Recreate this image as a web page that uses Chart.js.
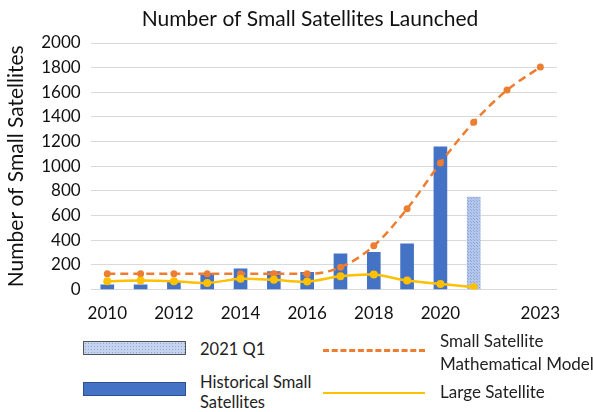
<!DOCTYPE html>
<html>
<head>
<meta charset="utf-8">
<script src="https://cdn.jsdelivr.net/npm/chart.js@4/dist/chart.umd.min.js"></script>
<style>
  body { margin: 0; background: #fff; font-family: Lato, "Open Sans", sans-serif; }
  #wrap { position: relative; width: 593px; height: 412px; }
  #box { position: absolute; left: 0; top: 0; width: 593px; height: 330px; }
  .leg { position: absolute; font-size: 16.5px; color: #222; line-height: 20px; white-space: nowrap; }
  .sw { position: absolute; width: 103px; height: 14px; box-sizing: border-box; }
  .ln { position: absolute; width: 102px; height: 0; }
</style>
</head>
<body>
<div id="wrap">
  <div id="box"><canvas id="sats"></canvas></div>
  <div id="legend"></div>
</div>
<script>
// values by year
const years = ['2010','2011','2012','2013','2014','2015','2016','2017','2018','2019','2020','2021','2022','2023'];
const shownYears = ['2010','2012','2014','2016','2018','2020','2023'];
const historical = [39, 39, 60, 130, 168, 146, 141, 290, 303, 371, 1157, null, null, null];
const q1_2021 = [null, null, null, null, null, null, null, null, null, null, null, 750, null, null];
const modelValues = [128, 128, 128, 128, 128, 128, 128, 181, 355, 656, 1027, 1358, 1618, 1805];
const largeSats = [68, 73, 68, 54, 87, 79, 65, 108, 122, 73, 46, 19, null, null];

const BLUE = '#4472C4';
const ORANGE = '#ED7D31';
const YELLOW = '#FFC000';
const TEXT = '#111';

// dotted light blue fill for the partial year bar
function dotPattern() {
    const c = document.createElement('canvas');
    c.width = 3; c.height = 3;
    const g = c.getContext('2d');
    g.fillStyle = '#B4C6EA';
    g.fillRect(0, 0, 3, 3);
    g.fillStyle = '#8FA8DA';
    g.fillRect(0, 0, 1, 1);
    g.fillRect(2, 2, 1, 1);
    return g.createPattern(c, 'repeat');
}
const pattern = dotPattern();

// title sits a bit right of the canvas centre, so draw it by hand
const headTitle = {
    id: 'headTitle',
    afterDraw(chart) {
        const c = chart.ctx;
        c.save();
        c.font = '21px Lato';
        c.fillStyle = TEXT;
        c.textAlign = 'center';
        c.textBaseline = 'middle';
        c.fillText('Number of Small Satellites Launched', 310, 19);
        c.restore();
    }
};

const ctx = document.getElementById('sats').getContext('2d');
new Chart(ctx, {
    data: {
        labels: years,
        datasets: [
            {
                type: 'line', label: 'Large Satellite', data: largeSats, order: 0,
                borderColor: YELLOW, backgroundColor: YELLOW, borderWidth: 2.5,
                pointRadius: 4, pointBorderWidth: 0, tension: 0.3, fill: false
            },
            {
                type: 'line', label: 'Small Satellite Mathematical Model', data: modelValues, order: 1,
                borderColor: ORANGE, backgroundColor: ORANGE, borderWidth: 2.5, borderDash: [8, 5],
                pointRadius: 3.5, pointBorderWidth: 0, cubicInterpolationMode: 'monotone', fill: false
            },
            {
                type: 'bar', label: 'Historical Small Satellites', data: historical, order: 3,
                backgroundColor: BLUE, barThickness: 13, grouped: false
            },
            {
                type: 'bar', label: '2021 Q1', data: q1_2021, order: 2,
                backgroundColor: pattern, barThickness: 13, grouped: false
            }
        ]
    },
    options: {
        responsive: true,
        maintainAspectRatio: false,
        animation: false,
        layout: { padding: { left: 2, right: 36, top: 43, bottom: 0 } },
        plugins: {
            legend: { display: false },
            tooltip: { enabled: false },
            title: { display: false }
        },
        scales: {
            x: {
                grid: { display: false },
                border: { display: false },
                ticks: {
                    autoSkip: false, maxRotation: 0, color: TEXT, padding: 6,
                    font: { family: 'Lato', size: 17 },
                    callback: function (v) {
                        const y = this.getLabelForValue(v);
                        return shownYears.includes(y) ? y : '';
                    }
                }
            },
            y: {
                min: 0, max: 2000,
                ticks: {
                    stepSize: 200, color: TEXT, padding: 10, font: { family: 'Lato', size: 17 },
                    callback: v => String(v)
                },
                grid: { color: '#d9d9d9', drawTicks: false },
                border: { display: false },
                title: {
                    display: true, text: 'Number of Small Satellites', color: TEXT,
                    font: { family: 'Lato', size: 21 }, padding: 2
                }
            }
        }
    },
    plugins: [headTitle]
});

// legend below the plot, two columns
const legend = document.getElementById('legend');
legend.innerHTML = `
  <div class="sw" style="left:83px;top:341px;border:1px solid #555;background:#C5D3EE;
       background-image:radial-gradient(#8FA8DA 0.7px, transparent 0.8px);background-size:3px 3px;"></div>
  <div class="leg" style="left:200px;top:339px;">2021 Q1</div>
  <div class="sw" style="left:83px;top:382px;border:1px solid #2F4F8F;background:${BLUE};"></div>
  <div class="leg" style="left:200px;top:372px;">Historical Small<br>Satellites</div>
  <div class="ln" style="left:323px;top:349px;border-top:3px dashed ${ORANGE};"></div>
  <div class="leg" style="left:440px;top:329px;font-size:17px;line-height:23px;">Small Satellite<br>Mathematical Model</div>
  <div class="ln" style="left:323px;top:392px;border-top:2.5px solid ${YELLOW};"></div>
  <div class="leg" style="left:440px;top:382px;font-size:17px;">Large Satellite</div>
`;
</script>
</body>
</html>
